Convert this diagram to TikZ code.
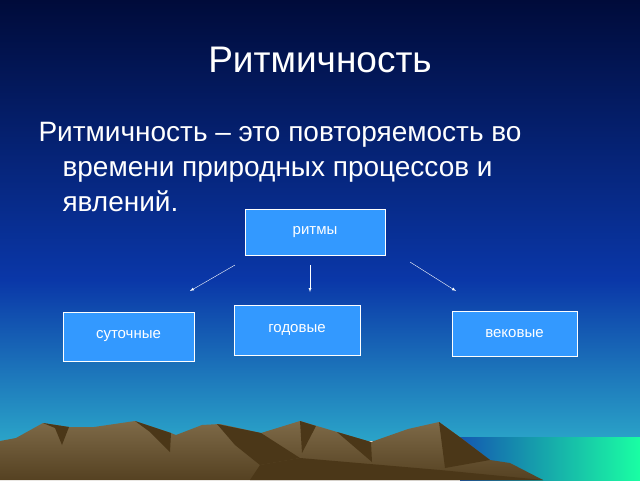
\documentclass[tikz,border=0pt]{standalone}
\usepackage{fontspec}
\setmainfont{Liberation Sans}
\definecolor{skytop}{HTML}{000B3A}
\definecolor{skymid}{HTML}{0A37A8}
\definecolor{skylow}{HTML}{2AA3C8}
\definecolor{boxblue}{HTML}{3399FF}
\definecolor{rock}{HTML}{7E6A48}
\definecolor{rockdark}{HTML}{4B3718}
\tikzset{
  kind/.style={draw=white,fill=boxblue,text=white,font=\fontsize{15}{17}\selectfont,
    minimum width=#1,minimum height=46pt,inner sep=0pt},
  link/.style={white,-latex,thin}
}
\begin{document}
\begin{tikzpicture}[x=1pt,y=-1pt]
        \useasboundingbox (0,0) rectangle (640,480);
        % sky
        \shade[top color=skytop,bottom color=skymid] (0,0) rectangle (640,280);
        \shade[top color=skymid,bottom color=skylow] (0,279.5) rectangle (640,440);
        \shade[left color=skymid!70!skylow,right color=cyan!60!green!90!white] (460,437) rectangle (640,480);
        % mountains
        \shade[top color=rock,bottom color=rockdark!80!rock] (0,480) -- (0,441) -- (16,438) -- (43,423) -- (69,427) -- (94,427)
          -- (135,421) -- (171,433) -- (176,435) -- (202,425) -- (220,424) -- (261,433) -- (300,421)
          -- (327,429) -- (371,442) -- (408,429) -- (439,422) -- (461,438) -- (490,460) -- (510,463) -- (543,480) -- cycle;
        \fill[rockdark] (43,423) -- (69,427) -- (62,445) -- (55,428) -- cycle;
        \fill[rockdark] (135,421) -- (171,433) -- (170,452) -- (150,432) -- cycle;
        \fill[rockdark] (217,424) -- (261,433) -- (300,458) -- (260,465) -- (235,445) -- cycle;
        \fill[rockdark] (300,421) -- (316,426) -- (302,453) -- cycle;
        \fill[rockdark] (337,432) -- (371,442) -- (372,462) -- cycle;
        \fill[rockdark] (439,422) -- (461,438) -- (490,460) -- (445,468) -- cycle;
        \fill[rockdark] (260,465) -- (300,458) -- (440,470) -- (543,480) -- (250,480) -- cycle;
        % texts
        \node[white,font=\fontsize{37}{42}\selectfont] (title) at (320,60) {Ритмичность};
        \node[white,anchor=north west,align=left,font=\fontsize{28}{35}\selectfont] (def) at (35,119)
          {Ритмичность – это повторяемость во\\\hspace*{24pt}времени природных процессов и\\\hspace*{24pt}явлений.};
        % boxes
        \node[kind=140pt] (rhythm) at (315,232) {ритмы};
        \node[kind=131pt,minimum height=49pt] (daily) at (128.5,336.5) {суточные};
        \node[kind=126pt,minimum height=50pt] (yearly) at (297,330) {годовые};
        \node[kind=125pt,minimum height=45pt] (secular) at (514.5,333.5) {вековые};
        \coordinate (a1) at (235,265);
        \coordinate (a2) at (310,265);
        \coordinate (a3) at (410,262);
        \coordinate (b1) at (190,291);
        \coordinate (b2) at (310,292);
        \coordinate (b3) at (456,291);
        \draw[link] (a1) -- (b1);
        \draw[link] (a2) -- (b2);
        \draw[link] (a3) -- (b3);
    \end{tikzpicture}
\end{document}
